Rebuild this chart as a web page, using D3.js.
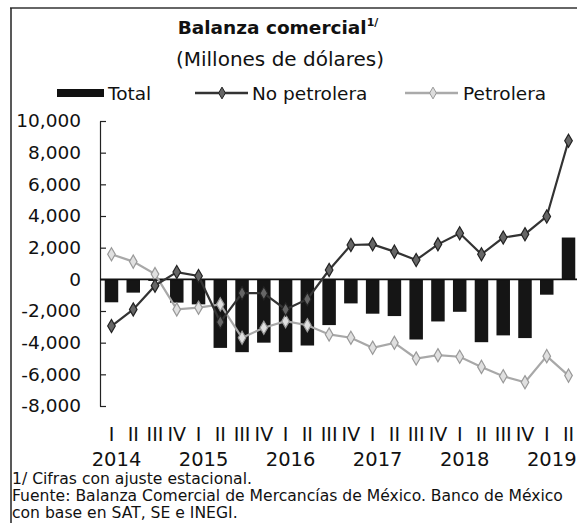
<!DOCTYPE html>
<html>
<head>
<meta charset="utf-8">
<script src="https://cdnjs.cloudflare.com/ajax/libs/d3/7.8.5/d3.min.js"></script>
<style>
  html, body { margin: 0; padding: 0; background: #fff; }
  svg { display: block; font-family: "DejaVu Sans", sans-serif; }
</style>
</head>
<body>
<svg id="chart" width="577" height="523"></svg>
<script>
// ---------- DATA ----------
const quarterLabels = ["I","II","III","IV","I","II","III","IV","I","II","III","IV","I","II","III","IV","I","II","III","IV","I","II"];
const yearLabels = ["2014","2015","2016","2017","2018","2019"];
const yearStartIndex = [0, 4, 8, 12, 16, 20];
const total = [-1450, -840, -100, -1470, -1580, -4330, -4600, -4000, -4600, -4180, -2890, -1520, -2170, -2320, -3800, -2660, -2050, -3970, -3540, -3710, -970, 2640];
const noPetrolera = [-2950, -1900, -400, 460, 210, -2700, -870, -880, -1900, -1250, 590, 2170, 2210, 1750, 1220, 2210, 2910, 1580, 2640, 2850, 3970, 8750];
const petrolera = [1580, 1120, 330, -1900, -1790, -1580, -3690, -3060, -2640, -2900, -3480, -3690, -4320, -4010, -5000, -4790, -4890, -5530, -6120, -6500, -4850, -6080];
const yTickValues = [-8000, -6000, -4000, -2000, 0, 2000, 4000, 6000, 8000, 10000];
const yTickLabels = ["-8,000", "-6,000", "-4,000", "-2,000", "0", "2,000", "4,000", "6,000", "8,000", "10,000"];
const legendNames = ["Total", "No petrolera", "Petrolera"];

// ---------- SETUP ----------
const svg = d3.select("#chart");
const idx = d3.range(quarterLabels.length);

const x = d3.scaleBand().domain(idx).range([100.6, 579.4]).paddingInner(0.38).paddingOuter(0.19);
const y = d3.scaleLinear().domain([-8000, 10000]).range([406, 121]);
const cx = i => x(i) + x.bandwidth() / 2;

// frame
svg.append("line").attr("x1", 10).attr("x2", 577).attr("y1", 8).attr("y2", 8)
  .attr("stroke", "#333").attr("stroke-width", 1.5);
svg.append("line").attr("x1", 11).attr("x2", 11).attr("y1", 8).attr("y2", 523)
  .attr("stroke", "#222").attr("stroke-width", 1.5);

// title
const title = svg.append("text").attr("x", 278).attr("y", 34).attr("text-anchor", "middle")
  .attr("font-size", 18.5).attr("font-weight", "bold").attr("fill", "#111");
title.append("tspan").text("Balanza comercial");
title.append("tspan").attr("font-size", 11).attr("dy", -8).text("1/");
svg.append("text").attr("x", 280).attr("y", 66).attr("text-anchor", "middle")
  .attr("font-size", 20).attr("fill", "#111").text("(Millones de dólares)");

// legend
const lg = svg.append("g").attr("font-size", 18.5).attr("fill", "#111");
lg.append("rect").attr("x", 57).attr("y", 89).attr("width", 47).attr("height", 8).attr("fill", "#111");
lg.append("text").attr("x", 108).attr("y", 99.5).text(legendNames[0]);
lg.append("line").attr("x1", 195).attr("x2", 248).attr("y1", 93).attr("y2", 93).attr("stroke", "#333").attr("stroke-width", 2.5);
lg.append("path").attr("d", d3.symbol(d3.symbolDiamond, 40)()).attr("transform", "translate(222,93)")
  .attr("fill", "#666").attr("stroke", "#222").attr("stroke-width", 1);
lg.append("text").attr("x", 252).attr("y", 99.5).text(legendNames[1]);
lg.append("line").attr("x1", 405).attr("x2", 458).attr("y1", 93).attr("y2", 93).attr("stroke", "#aaa").attr("stroke-width", 2.5);
lg.append("path").attr("d", d3.symbol(d3.symbolDiamond, 40)()).attr("transform", "translate(433,93)")
  .attr("fill", "#ddd").attr("stroke", "#999").attr("stroke-width", 1);
lg.append("text").attr("x", 463).attr("y", 99.5).text(legendNames[2]);

// y axis
const yAxis = d3.axisLeft(y).tickValues(yTickValues)
  .tickFormat((d, i) => yTickLabels[i]).tickSizeInner(-6).tickSizeOuter(0).tickPadding(19);
const gy = svg.append("g").attr("transform", "translate(100,0)").call(yAxis);
gy.select(".domain").attr("stroke", "#222").attr("stroke-width", 1.2);
gy.selectAll(".tick line").attr("stroke", "#222").attr("stroke-width", 1.2);
gy.selectAll(".tick text").attr("font-size", 18.5).attr("fill", "#111").attr("font-family", "DejaVu Sans");

// bars
svg.append("g").selectAll("rect").data(idx).join("rect")
  .attr("x", i => x(i)).attr("width", x.bandwidth())
  .attr("y", i => y(Math.max(0, total[i])))
  .attr("height", i => Math.abs(y(total[i]) - y(0)))
  .attr("fill", "#151515");

// zero line
svg.append("line").attr("x1", 100).attr("x2", 577).attr("y1", y(0)).attr("y2", y(0))
  .attr("stroke", "#111").attr("stroke-width", 1.6);

// lines
const line = d3.line().x(d => cx(d[0])).y(d => y(d[1]));
svg.append("path").datum(idx.map(i => [i, petrolera[i]])).attr("d", line)
  .attr("fill", "none").attr("stroke", "#a8a8a8").attr("stroke-width", 2.2);
svg.append("g").selectAll("path").data(idx).join("path")
  .attr("d", d3.symbol(d3.symbolDiamond, 50)())
  .attr("transform", i => `translate(${cx(i)},${y(petrolera[i])})`)
  .attr("fill", "#e0e0e0").attr("stroke", "#999").attr("stroke-width", 1.2);

svg.append("path").datum(idx.map(i => [i, noPetrolera[i]])).attr("d", line)
  .attr("fill", "none").attr("stroke", "#333").attr("stroke-width", 2.2);
svg.append("g").selectAll("path").data(idx).join("path")
  .attr("d", d3.symbol(d3.symbolDiamond, 50)())
  .attr("transform", i => `translate(${cx(i)},${y(noPetrolera[i])})`)
  .attr("fill", "#666").attr("stroke", "#222").attr("stroke-width", 1.2);

// x axis: quarters
const xAxis = d3.axisBottom(x).tickFormat(i => quarterLabels[i]).tickSize(0).tickPadding(0);
const gx = svg.append("g").attr("transform", "translate(0,427)").call(xAxis);
gx.select(".domain").remove();
gx.selectAll(".tick text").attr("font-size", 19).attr("fill", "#111").attr("font-family", "DejaVu Sans");

// x axis: years
const xYear = d3.axisBottom(x).tickValues(yearStartIndex)
  .tickFormat(i => yearLabels[yearStartIndex.indexOf(i)]).tickSize(0).tickPadding(0).offset(4);
const gyr = svg.append("g").attr("transform", "translate(5,452)").call(xYear);
gyr.select(".domain").remove();
gyr.selectAll(".tick text").attr("font-size", 19.5).attr("fill", "#111").attr("font-family", "DejaVu Sans");

// footnotes
const fn = svg.append("g").attr("font-size", 15.6).attr("fill", "#111");
fn.append("text").attr("x", 12).attr("y", 484).text("1/ Cifras con ajuste estacional.");
fn.append("text").attr("x", 12).attr("y", 501).text("Fuente: Balanza Comercial de Mercancías de México. Banco de México");
fn.append("text").attr("x", 12).attr("y", 518).text("con base en SAT, SE e INEGI.");
</script>
</body>
</html>
